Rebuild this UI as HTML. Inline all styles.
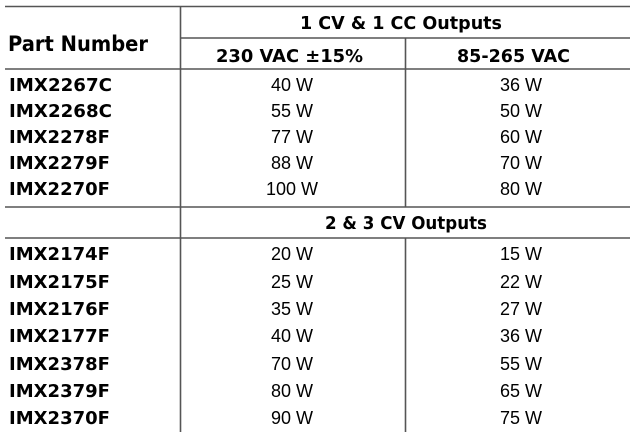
<!DOCTYPE html>
<html><head><meta charset="utf-8"><style>
html,body{margin:0;padding:0;background:#fff;width:635px;height:443px;overflow:hidden}
svg text{font-family:"DejaVu Sans","Liberation Sans",sans-serif;fill:#000}
.b{font-weight:bold}
.n{font-family:"Liberation Sans",sans-serif}
</style></head><body>
<svg width="635" height="443" viewBox="0 0 635 443" xmlns="http://www.w3.org/2000/svg">
<g stroke="#555" stroke-width="1.6">
<line x1="5" y1="6.5" x2="630" y2="6.5"/>
<line x1="180" y1="38" x2="630" y2="38"/>
<line x1="5" y1="69" x2="630" y2="69"/>
<line x1="5" y1="207" x2="630" y2="207"/>
<line x1="5" y1="238" x2="630" y2="238"/>
<line x1="180.5" y1="6" x2="180.5" y2="432"/>
<line x1="405.5" y1="38" x2="405.5" y2="207"/>
<line x1="405.5" y1="238" x2="405.5" y2="432"/>
</g>
<text class="b" x="8" y="51" font-size="21" textLength="140" lengthAdjust="spacingAndGlyphs">Part Number</text>
<text class="b" x="300" y="29" font-size="18" textLength="202" lengthAdjust="spacingAndGlyphs">1 CV &amp; 1 CC Outputs</text>
<text class="b" x="216" y="62" font-size="18" textLength="147" lengthAdjust="spacingAndGlyphs">230 VAC ±15%</text>
<text class="b" x="457" y="62" font-size="18" textLength="113" lengthAdjust="spacingAndGlyphs">85-265 VAC</text>
<text class="b" x="325" y="229" font-size="18" textLength="162" lengthAdjust="spacingAndGlyphs">2 &amp; 3 CV Outputs</text>
<g font-size="18">
<text class="b" x="9" y="91" textLength="103" lengthAdjust="spacingAndGlyphs">IMX2267C</text>
<text class="b" x="9" y="117" textLength="103" lengthAdjust="spacingAndGlyphs">IMX2268C</text>
<text class="b" x="9" y="143" textLength="101" lengthAdjust="spacingAndGlyphs">IMX2278F</text>
<text class="b" x="9" y="169" textLength="101" lengthAdjust="spacingAndGlyphs">IMX2279F</text>
<text class="b" x="9" y="195" textLength="101" lengthAdjust="spacingAndGlyphs">IMX2270F</text>
<text class="b" x="9" y="260" textLength="101" lengthAdjust="spacingAndGlyphs">IMX2174F</text>
<text class="b" x="9" y="288" textLength="101" lengthAdjust="spacingAndGlyphs">IMX2175F</text>
<text class="b" x="9" y="315" textLength="101" lengthAdjust="spacingAndGlyphs">IMX2176F</text>
<text class="b" x="9" y="342" textLength="101" lengthAdjust="spacingAndGlyphs">IMX2177F</text>
<text class="b" x="9" y="370" textLength="101" lengthAdjust="spacingAndGlyphs">IMX2378F</text>
<text class="b" x="9" y="397" textLength="101" lengthAdjust="spacingAndGlyphs">IMX2379F</text>
<text class="b" x="9" y="424" textLength="101" lengthAdjust="spacingAndGlyphs">IMX2370F</text>
</g>
<g class="n" font-size="18" text-anchor="middle">
<text class="n" x="292" y="91">40 W</text><text class="n" x="521" y="91">36 W</text>
<text class="n" x="292" y="117">55 W</text><text class="n" x="521" y="117">50 W</text>
<text class="n" x="292" y="143">77 W</text><text class="n" x="521" y="143">60 W</text>
<text class="n" x="292" y="169">88 W</text><text class="n" x="521" y="169">70 W</text>
<text class="n" x="292" y="195">100 W</text><text class="n" x="521" y="195">80 W</text>
<text class="n" x="292" y="260">20 W</text><text class="n" x="521" y="260">15 W</text>
<text class="n" x="292" y="288">25 W</text><text class="n" x="521" y="288">22 W</text>
<text class="n" x="292" y="315">35 W</text><text class="n" x="521" y="315">27 W</text>
<text class="n" x="292" y="342">40 W</text><text class="n" x="521" y="342">36 W</text>
<text class="n" x="292" y="370">70 W</text><text class="n" x="521" y="370">55 W</text>
<text class="n" x="292" y="397">80 W</text><text class="n" x="521" y="397">65 W</text>
<text class="n" x="292" y="424">90 W</text><text class="n" x="521" y="424">75 W</text>
</g>
</svg>
</body></html>
